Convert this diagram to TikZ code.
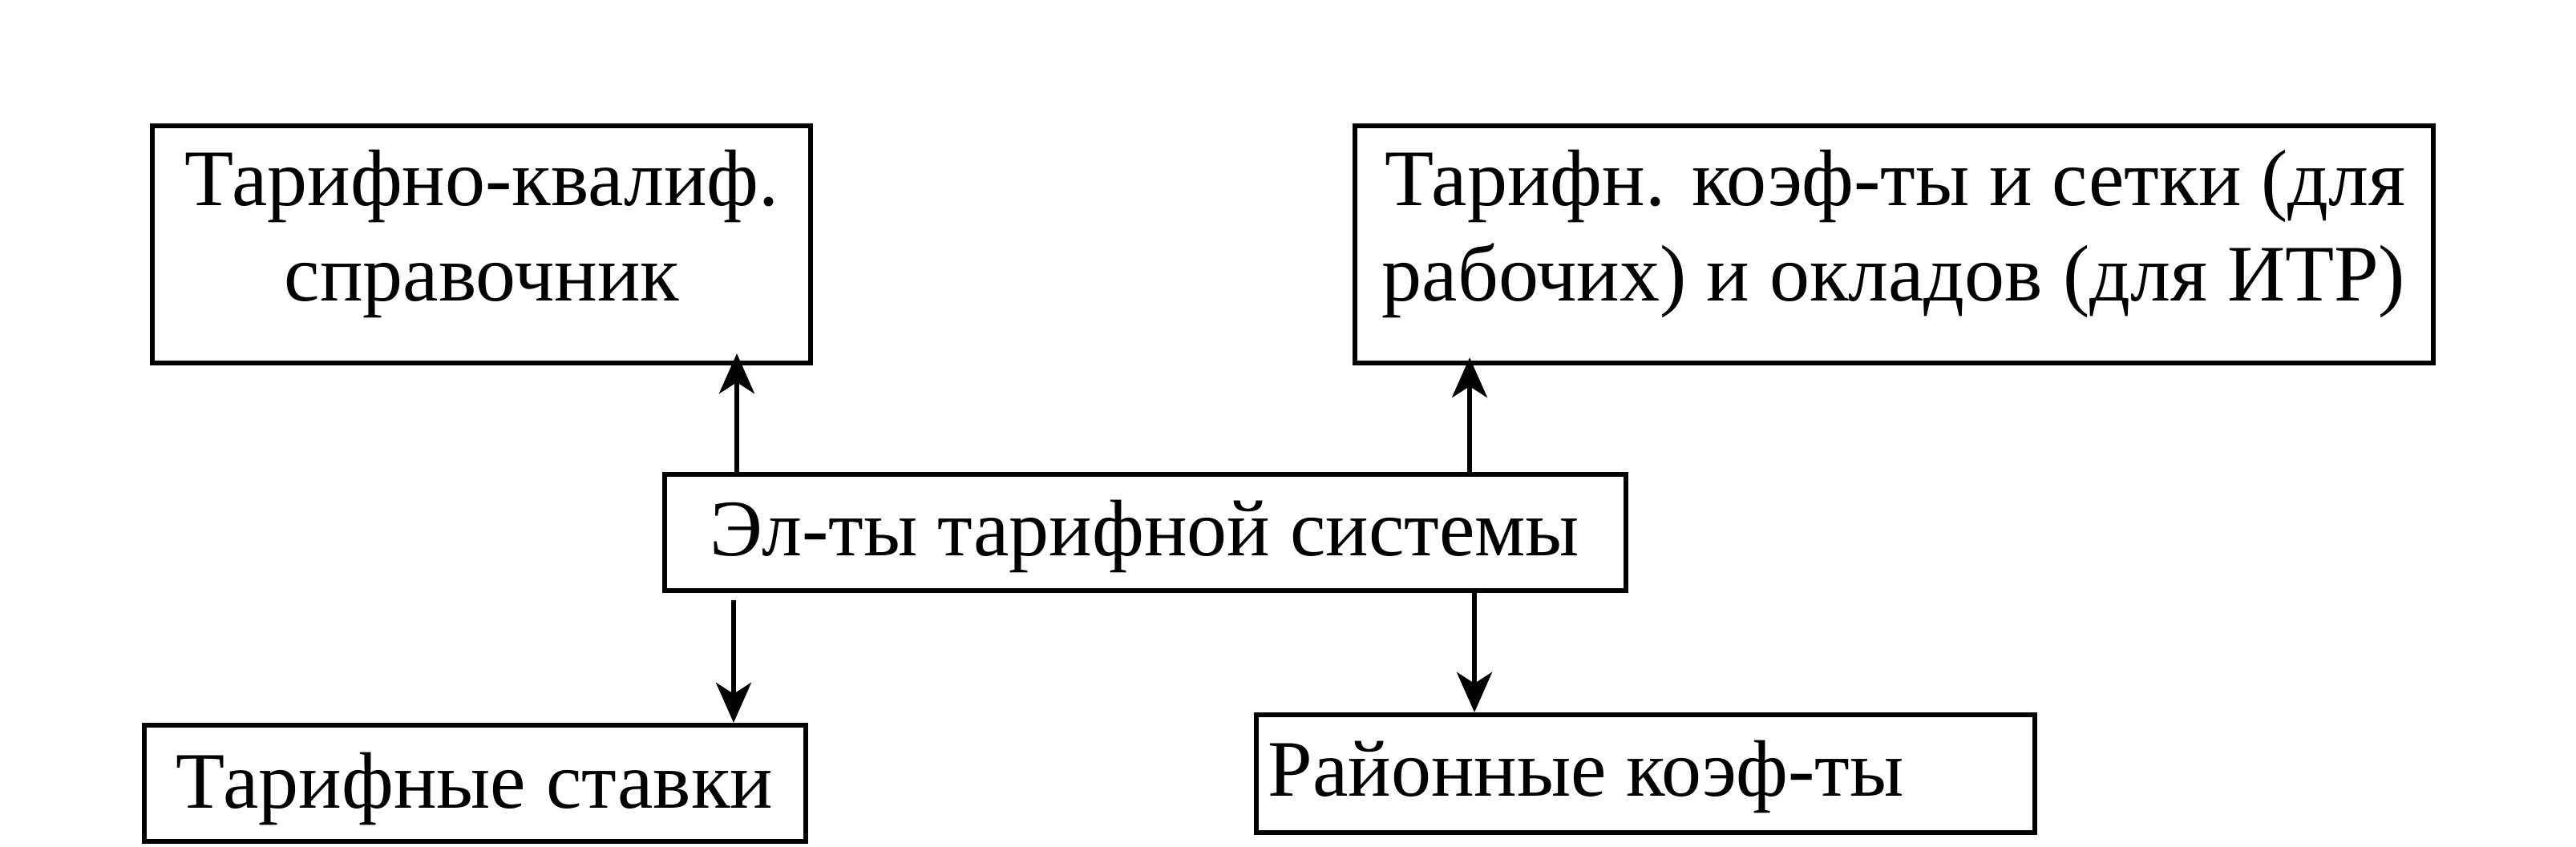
\documentclass[tikz,border=0pt]{standalone}
\usepackage{fontspec}
\setmainfont{Liberation Serif}
\usetikzlibrary{arrows.meta}
\begin{document}
\begin{tikzpicture}[
  box/.style={draw=black, line width=0.062cm, inner sep=0pt, fill=white},
  txt/.style={anchor=base, inner sep=0pt, font=\fontsize{28.45}{34}\selectfont},
  arr/.style={line width=0.055cm, -{Stealth[length=0.5cm, width=0.44cm, inset=0.14cm]}}
]
\useasboundingbox (0,0) rectangle (32.13,-10.56);
\fill[white] (0,0) rectangle (32.13,-10.56);

\node[box, minimum width=8.21cm, minimum height=2.96cm] (tl) at (6.005,-3.05) {};
\node[box, minimum width=13.45cm, minimum height=2.96cm] (tr) at (23.625,-3.05) {};
\node[box, minimum width=11.99cm, minimum height=1.45cm] (mid) at (14.285,-6.645) {};
\node[box, minimum width=8.25cm, minimum height=1.45cm] (bl) at (5.925,-9.775) {};
\node[box, minimum width=9.71cm, minimum height=1.47cm] (br) at (20.525,-9.655) {};

\node[txt] (tl1) at (6.01,-2.56) {Тарифно-квалиф.};
\node[txt] (tl2) at (6.01,-3.75) {справочник};
\node[txt] (tr1) at (23.64,-2.56) {Тарифн. коэф-ты и сетки (для};
\node[txt] (tr2) at (23.62,-3.75) {рабочих) и окладов (для ИТР)};
\node[txt] (midt) at (14.28,-6.93) {Эл-ты тарифной системы};
\node[txt] (blt) at (5.92,-10.08) {Тарифные ставки};
\node[txt, anchor=base west] (brt) at (15.81,-9.93) {Районные коэф-ты};

\draw[arr, shorten >=-0.15cm] (mid.north -| 9.19,0) -- (tl.south -| 9.19,0);
\draw[arr, shorten >=-0.1cm] (mid.south -| 18.33,0) ++(0,1.45) -- (tr.south -| 18.33,0);
\draw[arr, shorten <=0.09cm] (mid.south -| 9.15,0) -- (bl.north -| 9.15,0);
\draw[arr] (mid.south -| 18.39,0) -- (br.north -| 18.39,0);
\end{tikzpicture}
\end{document}
